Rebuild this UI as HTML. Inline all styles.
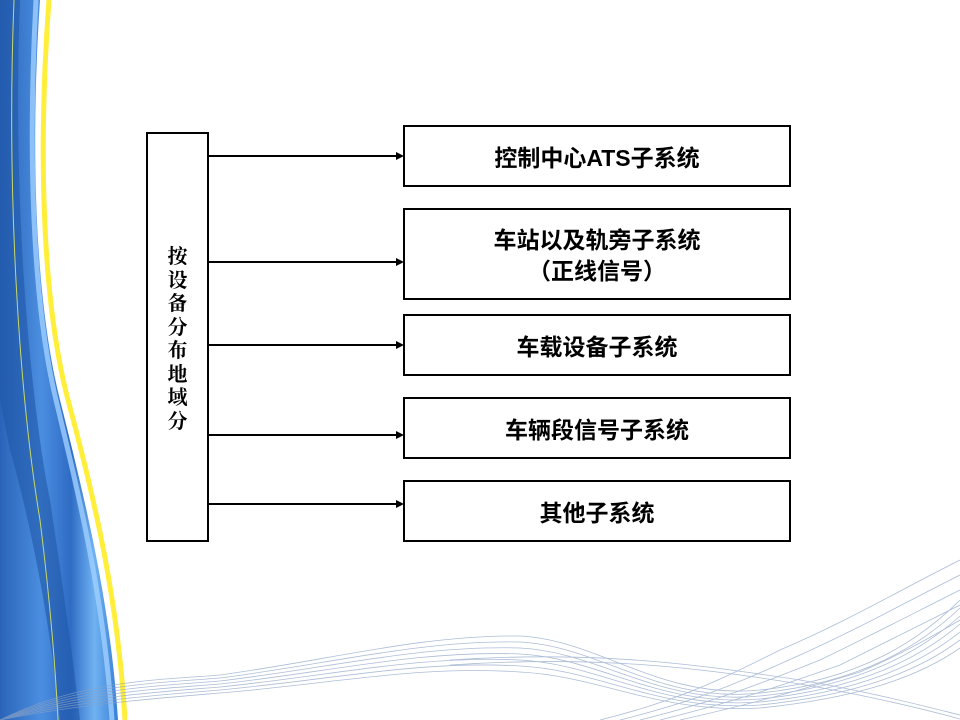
<!DOCTYPE html>
<html><head><meta charset="utf-8"><style>
html,body{margin:0;padding:0;background:#fff;}
body{width:960px;height:720px;position:relative;overflow:hidden;font-family:"Liberation Sans","Noto Sans CJK SC",sans-serif;}
.box{position:absolute;border:2px solid #000;background:#fff;box-sizing:border-box;display:flex;align-items:center;justify-content:center;text-align:center;font-weight:bold;font-size:23px;line-height:31px;color:#000;padding-top:4px;}
</style></head><body>
<svg width="960" height="720" style="position:absolute;left:0;top:0">
<defs>
<linearGradient id="bl" x1="0" x2="1" y1="0" y2="0">
<stop offset="0" stop-color="#2a64b8"/><stop offset="0.35" stop-color="#4b8ee0"/><stop offset="0.6" stop-color="#2f6cc4"/><stop offset="0.8" stop-color="#6fb2f2"/><stop offset="1" stop-color="#3a7fd6"/>
</linearGradient>
</defs>
<path d="M0,0 L40,0 C30,150 35,300 60,400 C85,500 110,600 118,720 L0,720 Z" fill="url(#bl)"/>
<path d="M20,0 C12,200 30,400 50,500 C62,580 72,650 80,720 L60,720 C50,620 30,520 10,450 L0,400 L0,0Z" fill="#1f56a8" opacity="0.6"/>
<path d="M36,0 C28,150 32,300 56,400 C80,500 104,600 112,720" stroke="#9fd0ff" stroke-width="5" fill="none" opacity="0.8"/>
<path d="M49,0 C38,150 42,300 68,400 C95,500 118,600 125,720" stroke="#ffef3a" stroke-width="5" fill="none"/>
<path d="M14,0 C6,200 20,400 40,520 C50,600 55,660 58,720" stroke="#c8d86a" stroke-width="1" fill="none"/>
<g fill="none" stroke="#8aa2c6" stroke-width="0.8" opacity="0.7">
<path d="M0,720 C80,680 160,680 220,675 C330,660 420,635 520,636 C600,640 660,700 760,690 C860,680 920,640 960,600"/>
<path d="M0,720 C80,684 160,683 220,678 C330,664 420,640 520,642 C600,646 660,704 760,693 C860,683 920,646 960,608"/>
<path d="M0,720 C80,688 160,686 220,681 C330,668 420,645 520,648 C600,652 660,706 760,696 C860,686 920,652 960,616"/>
<path d="M0,720 C80,692 160,689 220,684 C330,672 420,650 520,654 C600,658 660,708 760,699 C860,689 920,658 960,624"/>
<path d="M0,720 C80,696 160,692 220,687 C330,676 420,655 520,660 C600,664 660,710 760,702 C860,692 920,664 960,632"/>
<path d="M0,720 C80,700 160,695 220,690 C330,680 420,660 520,666 C600,670 660,712 760,705 C860,695 920,670 960,640"/>
<path d="M0,720 C80,704 160,698 220,693 C330,684 420,665 520,672 C600,676 660,714 760,708 C860,698 920,676 960,648"/>
<path d="M600,720 C680,700 720,680 780,650 C850,620 900,590 960,560"/>
<path d="M620,720 C700,700 740,682 800,655 C860,628 910,600 960,575"/>
<path d="M640,720 C720,700 760,684 820,660 C870,636 920,610 960,590"/>
<path d="M660,720 C740,700 780,686 840,665 C880,645 930,620 960,605"/>
<path d="M680,720 C760,702 800,690 860,672 C900,655 935,635 960,620"/>
<path d="M450,660 C600,650 700,665 800,680 C870,692 920,705 960,715"/>
<path d="M450,665 C600,655 700,668 800,684 C870,696 920,708 960,719"/>
</g>
<g stroke="#000" stroke-width="2" fill="#000">
<line x1="208" y1="156" x2="398" y2="156"/><polygon points="404,156 396,152 396,160" stroke="none"/>
<line x1="208" y1="262" x2="398" y2="262"/><polygon points="404,262 396,258 396,266" stroke="none"/>
<line x1="208" y1="345" x2="398" y2="345"/><polygon points="404,345 396,341 396,349" stroke="none"/>
<line x1="208" y1="435" x2="398" y2="435"/><polygon points="404,435 396,431 396,439" stroke="none"/>
<line x1="208" y1="504" x2="398" y2="504"/><polygon points="404,504 396,500 396,508" stroke="none"/>
</g>
</svg>
<div class="box" style="left:146px;top:132px;width:63px;height:410px;font-size:20px;line-height:23.5px;font-weight:normal;padding-top:0;"><div style="width:22px;font-family:'Noto Serif CJK SC','Liberation Serif',serif;font-weight:bold;">按设备分布地域分</div></div>
<div class="box" style="left:403px;top:125px;width:388px;height:62px;">控制中心ATS子系统</div>
<div class="box" style="left:403px;top:208px;width:388px;height:92px;">车站以及轨旁子系统<br>（正线信号）</div>
<div class="box" style="left:403px;top:314px;width:388px;height:62px;">车载设备子系统</div>
<div class="box" style="left:403px;top:397px;width:388px;height:62px;">车辆段信号子系统</div>
<div class="box" style="left:403px;top:480px;width:388px;height:62px;">其他子系统</div>
</body></html>
